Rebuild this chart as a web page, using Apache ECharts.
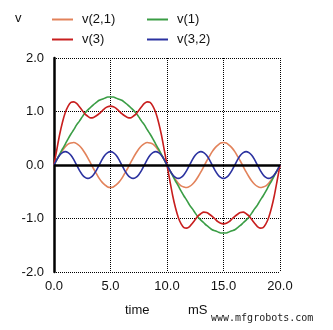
<!DOCTYPE html>
<html><head><meta charset="utf-8">
<script src="https://cdn.jsdelivr.net/npm/echarts@6/dist/echarts.min.js"></script>
<style>html,body{margin:0;padding:0;background:#fff}#c{width:333px;height:330px}</style>
</head><body><div id="c"></div>
<script>
const t = [0,0.25,0.5,0.75,1,1.25,1.5,1.75,2,2.25,2.5,2.75,3,3.25,3.5,3.75,4,4.25,4.5,4.75,5,5.25,5.5,5.75,6,6.25,6.5,6.75,7,7.25,7.5,7.75,8,8.25,8.5,8.75,9,9.25,9.5,9.75,10,10.25,10.5,10.75,11,11.25,11.5,11.75,12,12.25,12.5,12.75,13,13.25,13.5,13.75,14,14.25,14.5,14.75,15,15.25,15.5,15.75,16,16.25,16.5,16.75,17,17.25,17.5,17.75,18,18.25,18.5,18.75,19,19.25,19.5,19.75,20];
const v21 = [0,0.10,0.19,0.27,0.34,0.39,0.41,0.42,0.40,0.36,0.30,0.22,0.13,0.03,-0.07,-0.16,-0.25,-0.32,-0.37,-0.41,-0.42,-0.41,-0.37,-0.32,-0.25,-0.16,-0.07,0.03,0.13,0.22,0.30,0.36,0.40,0.42,0.41,0.39,0.34,0.27,0.19,0.10,0,
 -0.10,-0.19,-0.27,-0.34,-0.39,-0.41,-0.42,-0.40,-0.36,-0.30,-0.22,-0.13,-0.03,0.07,0.16,0.25,0.32,0.37,0.41,0.42,0.41,0.37,0.32,0.25,0.16,0.07,-0.03,-0.13,-0.22,-0.30,-0.36,-0.40,-0.42,-0.41,-0.39,-0.34,-0.27,-0.19,-0.10,0];
const v1 = [0,0.10,0.20,0.30,0.39,0.49,0.58,0.66,0.75,0.82,0.90,0.97,1.03,1.08,1.13,1.17,1.21,1.23,1.25,1.27,1.27,1.27,1.25,1.23,1.21,1.17,1.13,1.08,1.03,0.97,0.90,0.82,0.75,0.66,0.58,0.49,0.39,0.30,0.20,0.10,0,
 -0.10,-0.20,-0.30,-0.39,-0.49,-0.58,-0.66,-0.75,-0.82,-0.90,-0.97,-1.03,-1.08,-1.13,-1.17,-1.21,-1.23,-1.25,-1.27,-1.27,-1.27,-1.25,-1.23,-1.21,-1.17,-1.13,-1.08,-1.03,-0.97,-0.90,-0.82,-0.75,-0.66,-0.58,-0.49,-0.39,-0.30,-0.20,-0.10,0];
const v3 = [0,0.29,0.57,0.80,0.98,1.10,1.17,1.18,1.15,1.09,1.02,0.95,0.91,0.88,0.89,0.92,0.96,1.01,1.06,1.09,1.10,1.09,1.06,1.01,0.96,0.92,0.89,0.88,0.91,0.95,1.02,1.09,1.15,1.18,1.17,1.10,0.98,0.80,0.57,0.29,0,
 -0.29,-0.57,-0.80,-0.98,-1.10,-1.17,-1.18,-1.15,-1.09,-1.02,-0.95,-0.91,-0.88,-0.89,-0.92,-0.96,-1.01,-1.06,-1.09,-1.10,-1.09,-1.06,-1.01,-0.96,-0.92,-0.89,-0.88,-0.91,-0.95,-1.02,-1.09,-1.15,-1.18,-1.17,-1.10,-0.98,-0.80,-0.57,-0.29,0];
const v32 = [0,0.10,0.18,0.23,0.25,0.23,0.18,0.10,0,-0.10,-0.18,-0.23,-0.25,-0.23,-0.18,-0.10,
 0,0.10,0.18,0.23,0.25,0.23,0.18,0.10,0,-0.10,-0.18,-0.23,-0.25,-0.23,-0.18,-0.10,
 0,0.10,0.18,0.23,0.25,0.23,0.18,0.10,0,
 -0.10,-0.18,-0.23,-0.25,-0.23,-0.18,-0.10,0,0.10,0.18,0.23,0.25,0.23,0.18,0.10,0,
 -0.10,-0.18,-0.23,-0.25,-0.23,-0.18,-0.10,0,0.10,0.18,0.23,0.25,0.23,0.18,0.10,0,
 -0.10,-0.18,-0.23,-0.25,-0.23,-0.18,-0.10,0];
const names = ['v(2,1)','v(1)','v(3)','v(3,2)'];
const colors = ['#e2825a','#3a9d45','#c81e1e','#2b32a0'];
const xTicks = [0,5,10,15,20];
const yTicks = [-2,-1,0,1,2];

const FONT = 'Liberation Sans, Arial, Helvetica, sans-serif';
const chart = echarts.init(document.getElementById('c'), null, {renderer:'canvas'});
const vals = [v21, v1, v3, v32];
const series = names.map((n,i)=>({
  name:n, type:'line', data:t.map((x,j)=>[x, vals[i][j]]),
  showSymbol:false, smooth:0.3, lineStyle:{width:1.6, color:colors[i]}, itemStyle:{color:colors[i]},
  z: 3
}));
series[0].markLine = {silent:true, symbol:'none', label:{show:false},
  lineStyle:{color:'#000', width:2.5, type:'solid'}, data:[{yAxis:0}], z:4};
const legPos = [[52,13],[147,13],[52,33],[147,33]];
const legends = names.map((n,i)=>({
  data:[n], left:legPos[i][0], top:legPos[i][1], icon:'rect', itemWidth:21, itemHeight:2,
  padding:0, textStyle:{fontFamily:FONT, fontSize:13, color:'#111', padding:[0,0,0,4]}
}));
chart.setOption({
  animation:false,
  backgroundColor:'#fff',
  grid:{left:54, right:53, top:58, bottom:58},
  legend:legends,
  xAxis:{type:'value', min:0, max:20, interval:5,
    axisLine:{show:false}, axisTick:{show:false},
    axisLabel:{fontFamily:FONT, fontSize:13, color:'#111', margin:8, formatter:v=>v.toFixed(1)},
    splitLine:{show:true, showMinLine:false, lineStyle:{color:'#000', type:'dotted', width:1}}},
  yAxis:{type:'value', min:-2, max:2, interval:1,
    axisLine:{show:true, onZero:false, lineStyle:{color:'#000', width:2.5}}, axisTick:{show:false},
    axisLabel:{fontFamily:FONT, fontSize:13, color:'#111', margin:10, formatter:v=>v.toFixed(1)},
    splitLine:{show:true, lineStyle:{color:'#000', type:'dotted', width:1}}},
  graphic:[
    {type:'text', left:15, top:12, style:{text:'v', font:'13px '+FONT, fill:'#111'}},
    {type:'text', left:125, top:304, style:{text:'time', font:'13px '+FONT, fill:'#111'}},
    {type:'text', left:188, top:304, style:{text:'mS', font:'13px '+FONT, fill:'#111'}},
    {type:'text', left:211, top:313, style:{text:'www.mfgrobots.com', font:'10px DejaVu Sans Mono, monospace', fill:'#222'}}
  ],
  series:series
});
</script></body></html>
